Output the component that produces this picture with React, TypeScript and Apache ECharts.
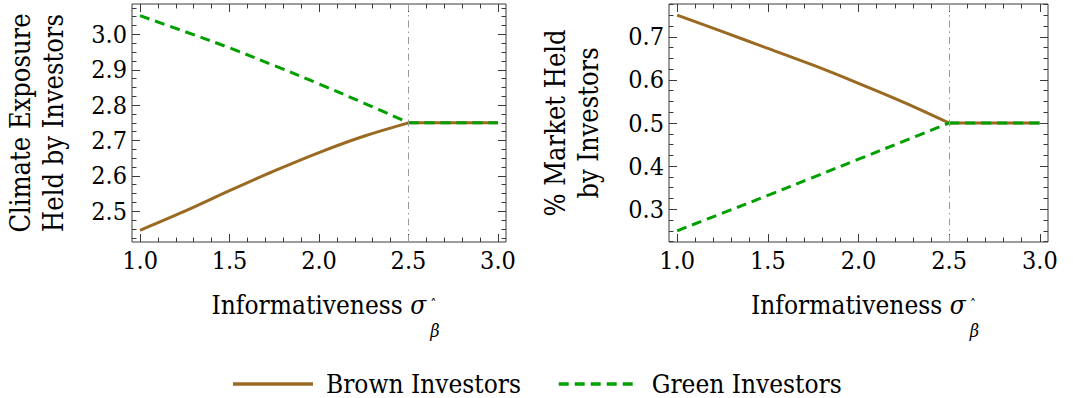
import React, { useEffect, useRef } from "react";
import * as echarts from "echarts";

// ---- data ----
const xValues = [1.0, 1.25, 1.5, 1.75, 2.0, 2.25, 2.5, 2.75, 3.0];
const exposureBrown = [2.446, 2.5, 2.558, 2.614, 2.666, 2.712, 2.75, 2.75, 2.75];
const exposureGreen = [3.053, 3.008, 2.962, 2.912, 2.86, 2.806, 2.75, 2.75, 2.75];
const marketBrown = [0.75, 0.712, 0.673, 0.634, 0.592, 0.548, 0.5, 0.5, 0.5];
const marketGreen = [0.25, 0.291, 0.332, 0.374, 0.416, 0.458, 0.5, 0.5, 0.5];
const xTicks = [1.0, 1.5, 2.0, 2.5, 3.0];
const exposureTicks = [2.5, 2.6, 2.7, 2.8, 2.9, 3.0];
const marketTicks = [0.3, 0.4, 0.5, 0.6, 0.7];
const thresholdX = 2.5;
const seriesNames = ["Brown Investors", "Green Investors"];

const FONT = "DejaVu Serif Condensed, DejaVu Serif";
const BROWN = "#9a6a22";
const GREEN = "#00a000";
const FRAME = "#3a3a3a";

function minorTicks(majors: number[], sub: number, min: number, max: number) {
  const step = (majors[1] - majors[0]) / sub;
  const out: number[] = [];
  const start = Math.ceil((min - majors[0]) / step - 1e-9);
  const end = Math.floor((max - majors[0]) / step + 1e-9);
  for (let k = start; k <= end; k++) {
    if (Math.abs(k % sub) === 0) continue;
    out.push(+(majors[0] + k * step).toFixed(6));
  }
  return out;
}

const panels = [
  {
    grid: { left: 132, top: 4, width: 374, height: 238 },
    xMin: 0.955, xMax: 3.045,
    yMin: 2.413, yMax: 3.086,
    yTicks: exposureTicks,
    yName: "Climate Exposure\nHeld by Investors",
    nameGap: 62,
    brown: exposureBrown,
    green: exposureGreen,
  },
  {
    grid: { left: 669, top: 4, width: 379, height: 238 },
    xMin: 0.955, xMax: 3.045,
    yMin: 0.224, yMax: 0.776,
    yTicks: marketTicks,
    yName: "% Market Held\nby Investors",
    nameGap: 64,
    brown: marketBrown,
    green: marketGreen,
  },
];

function buildOption() {
  const grid: any[] = [];
  const xAxis: any[] = [];
  const yAxis: any[] = [];
  const series: any[] = [];
  const cut = xValues.indexOf(thresholdX);

  panels.forEach((p, g) => {
    grid.push({ ...p.grid, show: true, borderColor: FRAME, borderWidth: 1, containLabel: false });
    const xMinor = minorTicks(xTicks, 5, p.xMin, p.xMax);
    const yMinor = minorTicks(p.yTicks, 4, p.yMin, p.yMax);

    const baseX = {
      type: "value", gridIndex: g, min: p.xMin, max: p.xMax,
      axisLine: { show: false }, splitLine: { show: false },
    };
    xAxis.push({
      ...baseX, position: "bottom",
      axisTick: { show: true, inside: true, length: 8, customValues: xTicks, lineStyle: { color: FRAME } },
      axisLabel: {
        show: true, customValues: xTicks, margin: 6,
        formatter: (v: number) => v.toFixed(1),
        fontFamily: FONT, fontSize: 25, color: "#000",
      },
      name: "{n|Informativeness }{s|σ}{h|ˆ}\n{pad|}{b|β}",
      nameLocation: "middle", nameGap: 49,
      nameTextStyle: {
        fontFamily: FONT, fontSize: 26, color: "#000",
        rich: {
          n: { fontFamily: FONT, fontSize: 26, lineHeight: 28, color: "#000", padding: [0, 0, 0, 10] },
          s: { fontFamily: FONT, fontSize: 26, lineHeight: 28, fontStyle: "italic", color: "#000" },
          h: { fontFamily: FONT, fontSize: 14, lineHeight: 24, color: "#000", padding: [0, 0, 0, 4] },
          pad: { width: 232, lineHeight: 22 },
          b: { fontFamily: FONT, fontSize: 18, lineHeight: 22, fontStyle: "italic", color: "#000" },
        },
      },
    });
    xAxis.push({
      ...baseX, position: "bottom",
      axisTick: { show: true, inside: true, length: 4.5, customValues: xMinor, lineStyle: { color: FRAME } },
      axisLabel: { show: false },
    });
    xAxis.push({
      ...baseX, position: "top",
      axisTick: { show: true, inside: true, length: 8, customValues: xTicks, lineStyle: { color: FRAME } },
      axisLabel: { show: false },
    });
    xAxis.push({
      ...baseX, position: "top",
      axisTick: { show: true, inside: true, length: 4.5, customValues: xMinor, lineStyle: { color: FRAME } },
      axisLabel: { show: false },
    });

    const baseY = {
      type: "value", gridIndex: g, min: p.yMin, max: p.yMax,
      axisLine: { show: false }, splitLine: { show: false },
    };
    yAxis.push({
      ...baseY, position: "left",
      axisTick: { show: true, inside: true, length: 8, customValues: p.yTicks, lineStyle: { color: FRAME } },
      axisLabel: {
        show: true, customValues: p.yTicks, margin: 5,
        formatter: (v: number) => v.toFixed(1),
        fontFamily: FONT, fontSize: 25, color: "#000",
      },
      name: p.yName,
      nameLocation: "middle", nameRotate: 90, nameGap: p.nameGap,
      nameTextStyle: { fontFamily: FONT, fontSize: 27, lineHeight: 33, color: "#000" },
    });
    yAxis.push({
      ...baseY, position: "left",
      axisTick: { show: true, inside: true, length: 4.5, customValues: yMinor, lineStyle: { color: FRAME } },
      axisLabel: { show: false },
    });
    yAxis.push({
      ...baseY, position: "right",
      axisTick: { show: true, inside: true, length: 8, customValues: p.yTicks, lineStyle: { color: FRAME } },
      axisLabel: { show: false },
    });
    yAxis.push({
      ...baseY, position: "right",
      axisTick: { show: true, inside: true, length: 4.5, customValues: yMinor, lineStyle: { color: FRAME } },
      axisLabel: { show: false },
    });

    const mk = (name: string, vals: number[], color: string, dash: any, z: number, part: "curve" | "flat", withMark: boolean) => {
      const idx = part === "curve" ? xValues.slice(0, cut + 1).map((_, i) => i) : xValues.slice(cut).map((_, i) => i + cut);
      const s: any = {
        type: "line", name,
        xAxisIndex: g * 4, yAxisIndex: g * 4,
        data: idx.map((i) => [xValues[i], vals[i]]),
        symbol: "none", showSymbol: false, smooth: part === "curve" ? 0.35 : false, z,
        lineStyle: { color, width: 3, type: dash },
        itemStyle: { color },
      };
      if (withMark) {
        s.markLine = {
          silent: true, symbol: ["none", "none"], label: { show: false },
          lineStyle: { color: "#9a9a9a", width: 1, type: [7, 4, 1.5, 4] },
          data: [{ xAxis: thresholdX }],
        };
      }
      return s;
    };
    series.push(mk(seriesNames[0], p.brown, BROWN, "solid", 2, "curve", true));
    series.push(mk(seriesNames[0], p.brown, BROWN, "solid", 2, "flat", false));
    series.push(mk(seriesNames[1], p.green, GREEN, [10, 6], 3, "curve", false));
    series.push(mk(seriesNames[1], p.green, GREEN, [10, 6], 3, "flat", false));
  });

  return {
    animation: false,
    backgroundColor: "#fff",
    grid, xAxis, yAxis, series,
    legend: {
      data: seriesNames,
      left: "center", top: 366,
      itemWidth: 80, itemHeight: 14, itemGap: 36,
      itemStyle: { opacity: 0, borderWidth: 0 },
      lineStyle: { width: 3.5 },
      formatter: (name: string) => "{g|}{t|" + name + "}",
      textStyle: {
        fontFamily: FONT, fontSize: 26, color: "#000",
        rich: {
          g: { width: 8 },
          t: { fontFamily: FONT, fontSize: 26, color: "#000" },
        },
      },
      selectedMode: false,
    },
  };
}

export default function App() {
  const ref = useRef<HTMLDivElement>(null);
  useEffect(() => {
    if (!ref.current) return;
    const chart = echarts.init(ref.current, undefined, { renderer: "svg" });
    chart.setOption(buildOption() as any);
    return () => chart.dispose();
  }, []);
  return (
    <div
      ref={ref}
      style={{ position: "fixed", left: 0, top: 0, width: 1073, height: 398, background: "#fff" }}
    />
  );
}
